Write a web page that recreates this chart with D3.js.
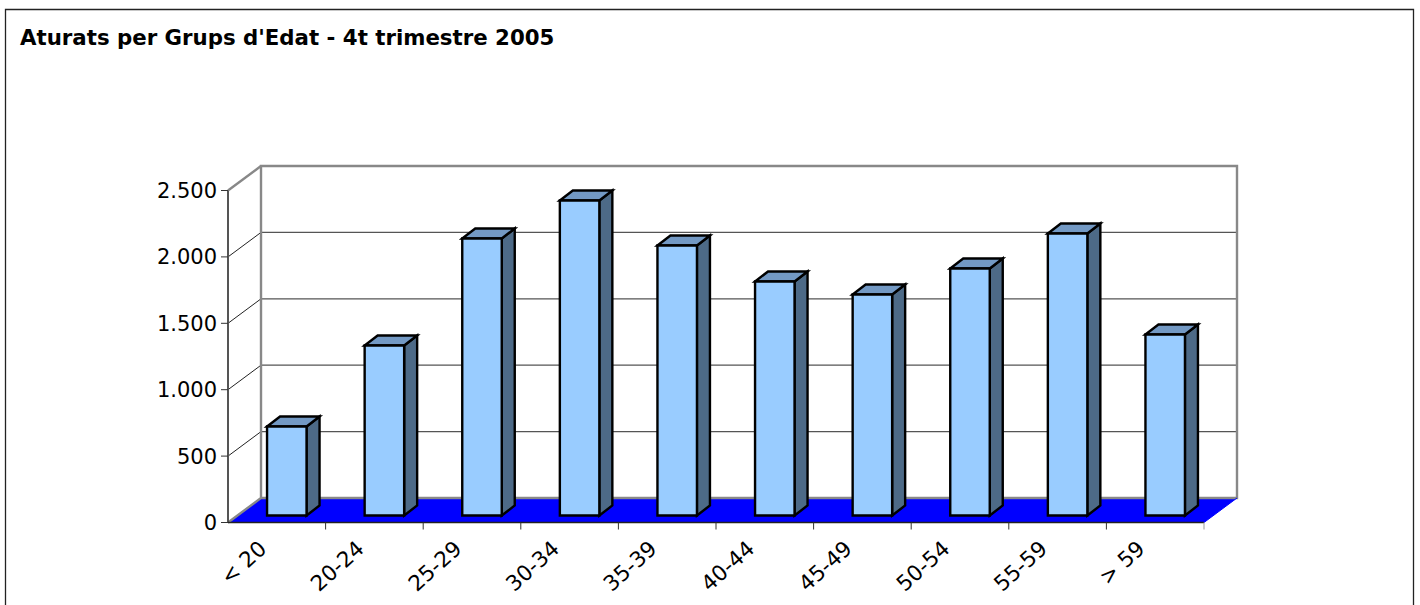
<!DOCTYPE html>
<html><head><meta charset="utf-8">
<script src="https://cdn.jsdelivr.net/npm/d3@7"></script>
<style>html,body{margin:0;padding:0;background:#fff;overflow:hidden}svg{display:block}text{font-family:"DejaVu Sans";fill:#000}</style>
</head><body><svg id="c" width="1420" height="605"></svg>
<script>
const categories=["< 20","20-24","25-29","30-34","35-39","40-44","45-49","50-54","55-59","> 59"];
const values=[674,1284,2090,2376,2037,1766,1668,1864,2127,1367];
const yTicks=[0,500,1000,1500,2000,2500];
const titleText="Aturats per Grups d'Edat - 4t trimestre 2005";
const fmt=d=>d3.format(",")(d).replace(/,/g,".");

const svg=d3.select("#c");
const x0=228,x1=1204,yB=522.5,yT=190.5,dx=33,dy=24.5;
const x=d3.scaleBand().domain(categories).range([x0,x1]);
const y=d3.scaleLinear().domain([0,2500]).range([yB,yT]);
const poly=(pts,fill,stroke,sw)=>svg.append("polygon").attr("points",pts.map(p=>p.join(",")).join(" ")).attr("fill",fill).attr("stroke",stroke||"none").attr("stroke-width",sw||0).attr("stroke-linejoin","miter");
const line=(a,b,c,w)=>svg.append("line").attr("x1",a[0]).attr("y1",a[1]).attr("x2",b[0]).attr("y2",b[1]).attr("stroke",c).attr("stroke-width",w);

// outer frame
svg.append("path").attr("d","M5.5,610V9.5H1413.5V610").attr("fill","none").attr("stroke","#222").attr("stroke-width",1.3);
svg.append("text").attr("x",20).attr("y",45).attr("font-size",21.3).attr("font-weight","bold").text(titleText);

// floor
poly([[x0,yB],[x1,yB],[x1+dx,yB-dy],[x0+dx,yB-dy]],"#0000ff");
// gridlines on side and back wall
yTicks.slice(1,-1).forEach(t=>{
  line([x0,y(t)],[x0+dx,y(t)-dy],"#222",1);
  line([x0+dx,y(t)-dy],[x1+dx,y(t)-dy],"#555",1.3);
});
// walls
svg.append("path").attr("d",`M${x0},${yB}L${x0+dx},${yB-dy}V${yT-dy}H${x1+dx}V${yB-dy}H${x0+dx}`).attr("fill","none").attr("stroke","#888").attr("stroke-width",2.4);
line([x0,yT],[x0+dx,yT-dy],"#888",2.4);
line([x1,yB],[x1+dx,yB-dy],"#0000ff",1);
// axes
line([x0,yT],[x0,yB],"#555",2);
line([x0,yB],[x1,yB],"#222",1.5);
yTicks.forEach(t=>{
  line([x0-7,y(t)],[x0,y(t)],"#333",1);
  svg.append("text").attr("x",x0-11).attr("y",y(t)+7.5).attr("text-anchor","end").attr("font-size",21).text(fmt(t));
});
categories.forEach((c,i)=>{
  const tx=x0+i*x.step();
  if(i>0) line([tx,yB],[tx,yB+7],"#333",1);
  const cx=x(c)+x.bandwidth()/2;
  svg.append("text").attr("transform",`translate(${cx-19},${yB+17}) rotate(-42)`).attr("text-anchor","end").attr("dy","0.7em").attr("font-size",21.5).text(c);
});
line([x1,yB],[x1,yB+7],"#999",1);

// bars
const bw=39.5,bd=13,bh=10,off=7,shift=-10;
categories.forEach((c,i)=>{
  const l=x(c)+x.bandwidth()/2-bw/2-shift, r=l+bw, b=yB-off, t=y(values[i])-off+0.5;
  poly([[r,t],[r+bd,t-bh],[r+bd,b-bh],[r,b]],"#4d6a87","#000",2.4);
  poly([[l,t],[l+bd,t-bh],[r+bd,t-bh],[r,t]],"#7399c4","#000",2.4);
  poly([[l,t],[r,t],[r,b],[l,b]],"#99ccff","#000",2.4);
});
</script></body></html>
